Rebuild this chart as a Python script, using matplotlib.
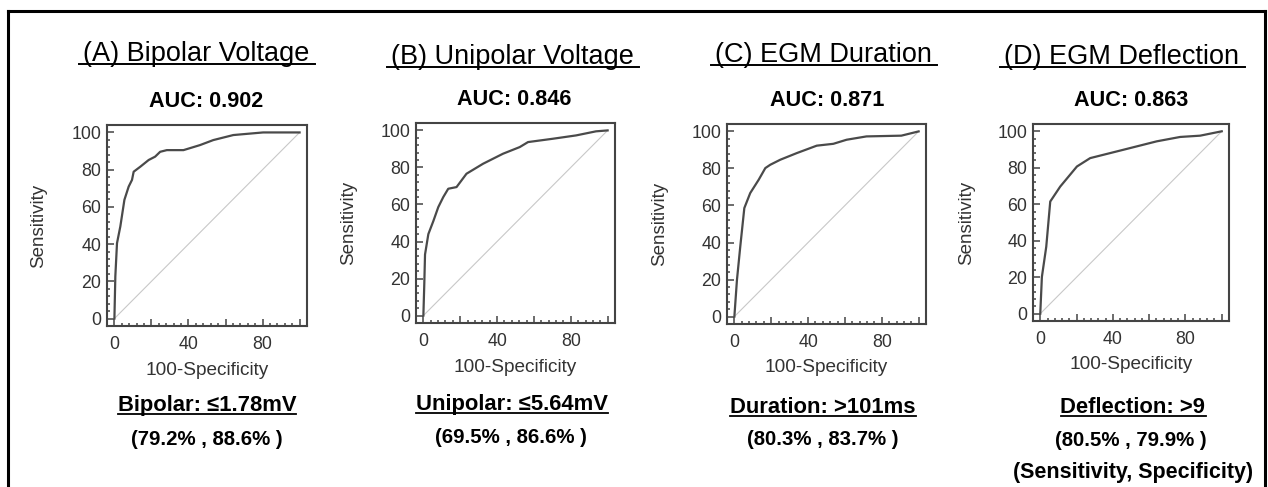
import matplotlib.pyplot as plt
from matplotlib.lines import Line2D
from matplotlib.ticker import MultipleLocator, FixedLocator

W, H = 1268, 487

# ROC curves (100-Specificity, Sensitivity)
bip_x = [0, 0.5, 1.4, 3.2, 5.4, 7.7, 9.5, 10.4, 14, 18.5, 22, 24.7, 28.3, 37.3, 46.2, 53.4, 64.2, 80.3, 100]
bip_y = [0, 22.7, 40.5, 49.5, 63.8, 70.9, 74.5, 78.9, 81.6, 85.2, 87, 89.6, 90.5, 90.5, 93.2, 95.9, 98.6, 100, 100]

uni_x = [0, 0.5, 0.9, 2.7, 5.4, 8.1, 10.8, 13.5, 18, 23.4, 32.4, 43.2, 52.3, 56.8, 70.3, 82.9, 93.7, 100]
uni_y = [0, 17, 33, 44, 51, 58.6, 64, 68.5, 69.4, 76.6, 82, 87.4, 91, 93.7, 95.5, 97.3, 99.5, 100]

dur_x = [0, 1.4, 3.2, 5.4, 8.6, 13.2, 16.8, 19.5, 24.9, 33.9, 44.7, 53.7, 60.9, 71.7, 90.6, 100]
dur_y = [0, 19.8, 37.8, 58.6, 66.7, 73.9, 80.2, 82, 84.7, 88.3, 92.3, 93.3, 95.5, 97.3, 97.7, 100]

dfl_x = [0, 0.9, 3.3, 5.5, 11, 20.2, 27.5, 45.9, 64.2, 77.1, 88.1, 100]
dfl_y = [0, 20.2, 36.7, 61.5, 69.7, 80.7, 85.3, 89.9, 94.5, 96.9, 97.6, 100]

titles = ["(A) Bipolar Voltage", "(B) Unipolar Voltage", "(C) EGM Duration", "(D) EGM Deflection"]
aucs = ["AUC: 0.902", "AUC: 0.846", "AUC: 0.871", "AUC: 0.863"]
cutoffs = ["Bipolar: \u22641.78mV", "Unipolar: \u22645.64mV", "Duration: >101ms", "Deflection: >9"]
sens_spec = ["(79.2% , 88.6% )", "(69.5% , 86.6% )", "(80.3% , 83.7% )", "(80.5% , 79.9% )"]
curves = [(bip_x, bip_y), (uni_x, uni_y), (dur_x, dur_y), (dfl_x, dfl_y)]

# layout in pixels: axes left, top, right, bottom
boxes = [(107, 125, 307, 326), (416, 123, 615, 323), (727, 124, 926, 324), (1033, 124, 1229, 321)]
title_pos = [(196, 61), (512, 64), (823, 62), (1121, 64)]
auc_pos = [(206, 107), (514, 105), (827, 106), (1131, 106)]
cut_pos = [(207, 411), (512, 410), (823, 413), (1133, 413)]
ss_pos = [(207, 445), (511, 443), (823, 445), (1131, 446)]

FAM = ["Liberation Sans", "DejaVu Sans"]
plt.rcParams["font.family"] = FAM

fig = plt.figure(figsize=(W / 100, H / 100), dpi=100)


def fx(x):
    return x / W


def fy(y):
    return 1 - y / H


underlined = []
for i in range(4):
    l, t, r, b = boxes[i]
    ax = fig.add_axes([fx(l), fy(b), (r - l) / W, (b - t) / H])
    cx, cy = curves[i]
    ax.plot([0, 100], [0, 100], color="#c8c8c8", lw=0.8)
    ax.plot(cx, cy, color="#4a4a4a", lw=1.6)
    ax.set_xlim(-4, 104)
    ax.set_ylim(-4, 104)
    ax.xaxis.set_major_locator(FixedLocator([0, 20, 40, 60, 80, 100]))
    ax.xaxis.set_minor_locator(MultipleLocator(4))
    ax.yaxis.set_major_locator(MultipleLocator(20))
    ax.yaxis.set_minor_locator(MultipleLocator(4))
    ax.set_xticklabels(["0", "", "40", "", "80", ""])
    ax.tick_params(which="both", direction="in", colors="#444444", labelcolor="#333333",
                   top=False, right=False, width=1.1)
    ax.tick_params(which="major", length=5, labelsize=12.8)
    ax.tick_params(axis="x", which="major", pad=7)
    ax.tick_params(axis="y", which="major", pad=4)
    ax.tick_params(which="minor", length=2.5)
    for s in ax.spines.values():
        s.set_color("#444444")
        s.set_linewidth(1.5)
    ax.text(-0.34, 0.5, "Sensitivity", transform=ax.transAxes, rotation=90,
            ha="center", va="center", fontsize=13.5, color="#333333")
    ax.text(0.5, -0.22, "100-Specificity", transform=ax.transAxes,
            ha="center", va="center", fontsize=13.7, color="#333333")

    t1 = fig.text(fx(title_pos[i][0]), fy(title_pos[i][1]), titles[i], ha="center",
                  va="baseline", fontsize=19.5, color="black")
    underlined.append((t1, title_pos[i][1] + 3, 4, 6, 1.4))
    fig.text(fx(auc_pos[i][0]), fy(auc_pos[i][1]), aucs[i], ha="center", va="baseline",
             fontsize=15.6, fontweight="bold", color="black")
    t2 = fig.text(fx(cut_pos[i][0]), fy(cut_pos[i][1]), cutoffs[i], ha="center",
                  va="baseline", fontsize=15.8, fontweight="bold", color="black")
    underlined.append((t2, cut_pos[i][1] + 3, 0, 0, 1.3))
    fig.text(fx(ss_pos[i][0]), fy(ss_pos[i][1]), sens_spec[i], ha="center", va="baseline",
             fontsize=14.7, fontweight="bold", color="black")

fig.text(fx(1133), fy(478), "(Sensitivity, Specificity)", ha="center", va="baseline",
         fontsize=15.5, fontweight="bold", color="black")

# underlines from the rendered text extents
fig.canvas.draw()
rend = fig.canvas.get_renderer()
for txt, yline, padl, padr, lw in underlined:
    bb = txt.get_window_extent(rend)
    fig.add_artist(Line2D([fx(bb.x0 - padl), fx(bb.x1 + padr)], [fy(yline)] * 2,
                          transform=fig.transFigure, color="black", lw=lw))

# outer frame (open at the bottom)
frame = dict(transform=fig.transFigure, color="black", lw=2.2)
fig.add_artist(Line2D([fx(8), fx(8)], [0, fy(11)], **frame))
fig.add_artist(Line2D([fx(8), fx(1265)], [fy(11), fy(11)], **frame))
fig.add_artist(Line2D([fx(1265), fx(1265)], [fy(11), 0], **frame))

fig.savefig("out.png", dpi=100)
